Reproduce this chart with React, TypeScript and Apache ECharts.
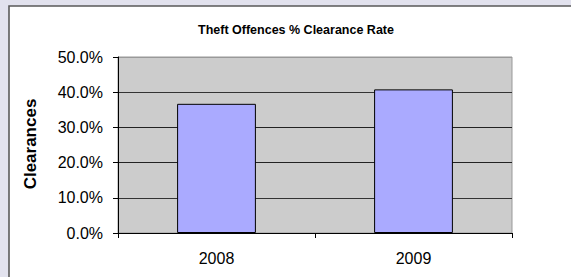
import React, { useEffect, useRef } from "react";
import * as echarts from "echarts";

const categories = ["2008", "2009"];
const clearanceRates = [36.7, 40.8];
const yTicks = [0, 10, 20, 30, 40, 50];
const titleText = "Theft Offences % Clearance Rate";
const yAxisTitle = "Clearances";

export default function App() {
  const ref = useRef<HTMLDivElement>(null);
  useEffect(() => {
    if (!ref.current) return;
    const chart = echarts.init(ref.current, undefined, { renderer: "svg" });
    chart.setOption({
      animation: false,
      backgroundColor: "#e2e2ee",
      graphic: [
        {
          type: "rect",
          shape: { x: 9, y: 6, width: 700, height: 400 },
          style: { fill: "#ffffff", stroke: "#5a5a5a", lineWidth: 1.6 },
          z: -10,
        },
        {
          type: "text",
          x: 296,
          y: 30,
          style: {
            text: titleText,
            font: "bold 12.5px 'Liberation Sans', Arial, sans-serif",
            fill: "#000",
            align: "center",
            verticalAlign: "middle",
          },
        },
        {
          type: "text",
          x: 30,
          y: 144,
          rotation: Math.PI / 2,
          style: {
            text: yAxisTitle,
            font: "bold 17px 'Liberation Sans', Arial, sans-serif",
            fill: "#000",
            align: "center",
            verticalAlign: "middle",
          },
        },
      ],
      grid: {
        left: 118,
        top: 57,
        width: 394,
        height: 176,
        show: true,
        backgroundColor: "#cccccc",
        borderColor: "#999999",
        borderWidth: 1,
      },
      xAxis: {
        type: "category",
        data: categories,
        boundaryGap: true,
        axisLine: { show: true, lineStyle: { color: "#000", width: 1 } },
        axisTick: { show: true, length: 5, alignWithLabel: false, lineStyle: { color: "#000" } },
        axisLabel: {
          color: "#000",
          fontSize: 16,
          fontFamily: "'Liberation Sans', Arial, sans-serif",
          margin: 17,
        },
        splitLine: { show: false },
      },
      yAxis: {
        type: "value",
        min: yTicks[0],
        max: yTicks[yTicks.length - 1],
        interval: 10,
        axisLine: { show: true, lineStyle: { color: "#000", width: 1 } },
        axisTick: { show: true, length: 5, lineStyle: { color: "#000" } },
        axisLabel: {
          color: "#000",
          fontSize: 16,
          fontFamily: "'Liberation Sans', Arial, sans-serif",
          margin: 15,
          formatter: (v: number) => v.toFixed(1) + "%",
        },
        splitLine: {
          show: true,
          lineStyle: {
            color: ["#000", "#333", "#222", "#222", "#333", "#999"],
            width: 1,
          },
        },
      },
      series: [
        {
          type: "bar",
          data: clearanceRates,
          barWidth: "40%",
          itemStyle: { color: "#aaaaff", borderColor: "#000", borderWidth: 1 },
        },
      ],
    });
    return () => chart.dispose();
  }, []);
  return (
    <div
      ref={ref}
      style={{ position: "fixed", left: 0, top: 0, width: 571, height: 277 }}
    />
  );
}
